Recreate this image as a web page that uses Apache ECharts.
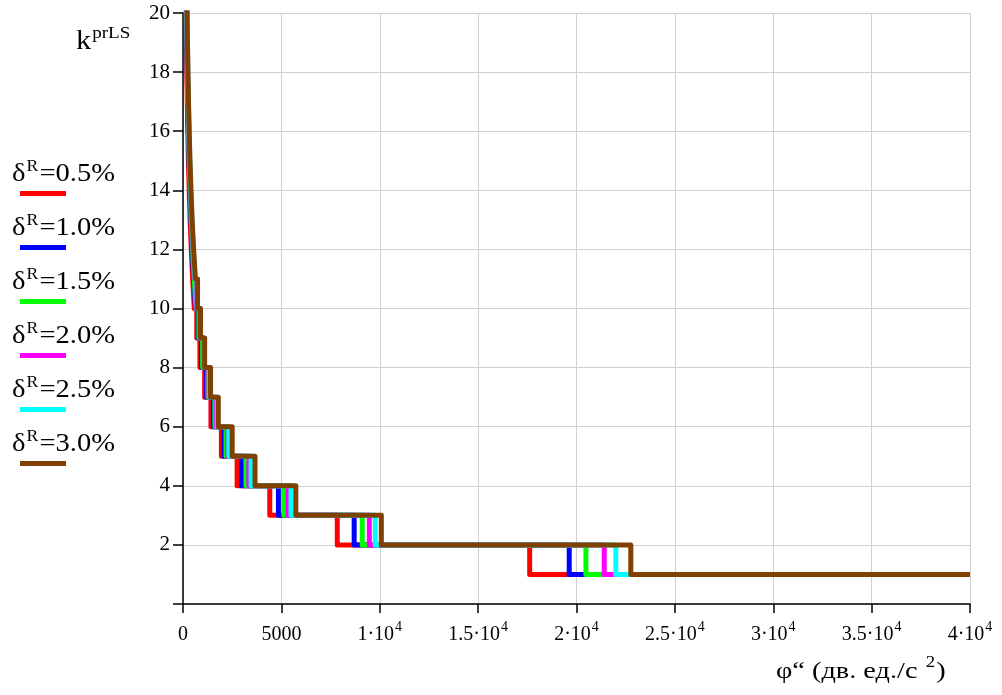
<!DOCTYPE html>
<html><head><meta charset="utf-8">
<script src="https://cdn.jsdelivr.net/npm/echarts@6/dist/echarts.min.js"></script>
<style>html,body{margin:0;padding:0;background:#fff}#c{width:1002px;height:695px}</style>
</head><body><div id="c"></div>
<script>
// k levels (value just before the drop): k drops from level to level-1 at the given φ''
const levels = [2,3,4,5,6,7,8,9,10,11,12,13,14,15,16,17,18,19,20,21];
const seriesNames = ['0.5%','1.0%','1.5%','2.0%','2.5%','3.0%'];
const colors = ['#ff0000','#0000ff','#00ff00','#ff00ff','#00ffff','#804000'];
const drops05 = [17620, 7840, 4410, 2750, 1950, 1420, 1100, 860, 700, 575, 490, 420, 360, 315, 275, 245, 217, 196, 177, 160];
const drops10 = [19630, 8700, 4850, 2980, 2080, 1540, 1200, 950, 775, 640, 545, 465, 400, 350, 306, 272, 241, 217, 197, 178];
const drops15 = [20480, 9110, 5125, 3200, 2190, 1620, 1270, 1000, 810, 665, 567, 486, 418, 365, 320, 284, 252, 227, 205, 186];
const drops20 = [21410, 9470, 5340, 3350, 2260, 1690, 1320, 1040, 845, 695, 592, 508, 437, 381, 334, 296, 263, 237, 214, 194];
const drops25 = [22000, 9770, 5490, 3460, 2330, 1740, 1360, 1070, 873, 718, 611, 524, 451, 393, 344, 305, 272, 244, 221, 200];
const drops30 = [22760, 10080, 5735, 3660, 2500, 1795, 1400, 1100, 890, 740, 630, 540, 465, 405, 355, 315, 280, 252, 228, 206];
const xEnd = 40000, kEnd = 1;
const xTickLabels = {0:'0',5000:'5000',10000:'1·10^4',15000:'1.5·10^4',20000:'2·10^4',25000:'2.5·10^4',30000:'3·10^4',35000:'3.5·10^4',40000:'4·10^4'};

const allDrops = [drops05, drops10, drops15, drops20, drops25, drops30];
function buildSteps(drops){
  const pts = [];
  for (let i = levels.length - 1; i >= 0; i--) {
    pts.push([drops[i], levels[i]]);
    pts.push([drops[i], levels[i] - 1]);
  }
  pts.push([xEnd, kEnd]);
  return pts;
}
const FONT = 'Liberation Serif, Times New Roman, serif';
const chart = echarts.init(document.getElementById('c'), null, {renderer:'canvas'});
const series = allDrops.map((d, i) => ({
  name: seriesNames[i], type: 'line', data: buildSteps(d), symbol: 'none', showSymbol: false,
  lineStyle: {color: colors[i], width: 5, join: 'round', cap: 'butt'},
  itemStyle: {color: colors[i]}, clip: true, silent: true, z: 3
}));
const legendGraphics = [];
seriesNames.forEach((n, i) => {
  legendGraphics.push({
    type: 'text', left: 12, top: 159 + 54 * i, scaleX: 1.1,
    style: {
      text: '{d|δ}{s|R}{d|=' + n + '}',
      rich: {
        d: {fontFamily: FONT, fontSize: 26, fill: '#000', verticalAlign: 'bottom', lineHeight: 30},
        s: {fontFamily: FONT, fontSize: 16, fill: '#000', verticalAlign: 'bottom', padding: [0, 1, 12, 1], lineHeight: 30}
      }
    }
  });
  legendGraphics.push({type: 'rect', left: 20, top: 191 + 54 * i, shape: {width: 46, height: 5}, style: {fill: colors[i]}});
});
legendGraphics.push({
  type: 'text', left: 76, top: 25, scaleX: 1.12,
  style: {
    text: '{d|k}{s|prLS}',
    rich: {
      d: {fontFamily: FONT, fontSize: 27, fill: '#000', verticalAlign: 'bottom', lineHeight: 30},
      s: {fontFamily: FONT, fontSize: 17, fill: '#000', verticalAlign: 'bottom', padding: [0, 0, 13, 1], lineHeight: 30}
    }
  }
});
legendGraphics.push({
  type: 'text', left: 776, top: 655, scaleX: 1.18,
  style: {
    text: '{d|φ“ (дв. ед./с }{s|2}{d|)}',
    rich: {
      d: {fontFamily: FONT, fontSize: 24, fill: '#000', verticalAlign: 'bottom', lineHeight: 30},
      s: {fontFamily: FONT, fontSize: 16, fill: '#000', verticalAlign: 'bottom', padding: [0, 1, 13, 1], lineHeight: 30}
    }
  }
});
chart.setOption({
  animation: false,
  backgroundColor: '#fff',
  grid: {left: 183, right: 32, top: 13, bottom: 91, containLabel: false},
  xAxis: {
    type: 'value', min: 0, max: 40000, interval: 5000,
    axisLine: {onZero: true, lineStyle: {color: '#000', width: 1.5}},
    axisTick: {show: true, length: 9, lineStyle: {color: '#000', width: 1.5}},
    axisLabel: {
      margin: 17, color: '#000', fontFamily: FONT, fontSize: 20,
      formatter: v => {
        const t = xTickLabels[v] || String(v);
        const p = t.split('^');
        return p.length > 1 ? '{a|' + p[0] + '}{b|' + p[1] + '}' : '{a|' + t + '}';
      },
      rich: {
        a: {fontFamily: FONT, fontSize: 20, color: '#000', verticalAlign: 'bottom', lineHeight: 24},
        b: {fontFamily: FONT, fontSize: 14, color: '#000', verticalAlign: 'bottom', padding: [0, 0, 11, 1], lineHeight: 24}
      }
    },
    splitLine: {show: true, lineStyle: {color: '#d0d0d0', width: 1}}
  },
  yAxis: {
    type: 'value', min: 0, max: 20, interval: 2,
    axisLine: {onZero: true, lineStyle: {color: '#000', width: 1.5}},
    axisTick: {show: true, length: 10, lineStyle: {color: '#000', width: 1.5}},
    axisLabel: {margin: 13, color: '#000', fontFamily: FONT, fontSize: 21, formatter: v => v === 0 ? '' : String(v)},
    splitLine: {show: true, lineStyle: {color: '#d0d0d0', width: 1}}
  },
  series: series,
  graphic: legendGraphics
});
</script></body></html>
